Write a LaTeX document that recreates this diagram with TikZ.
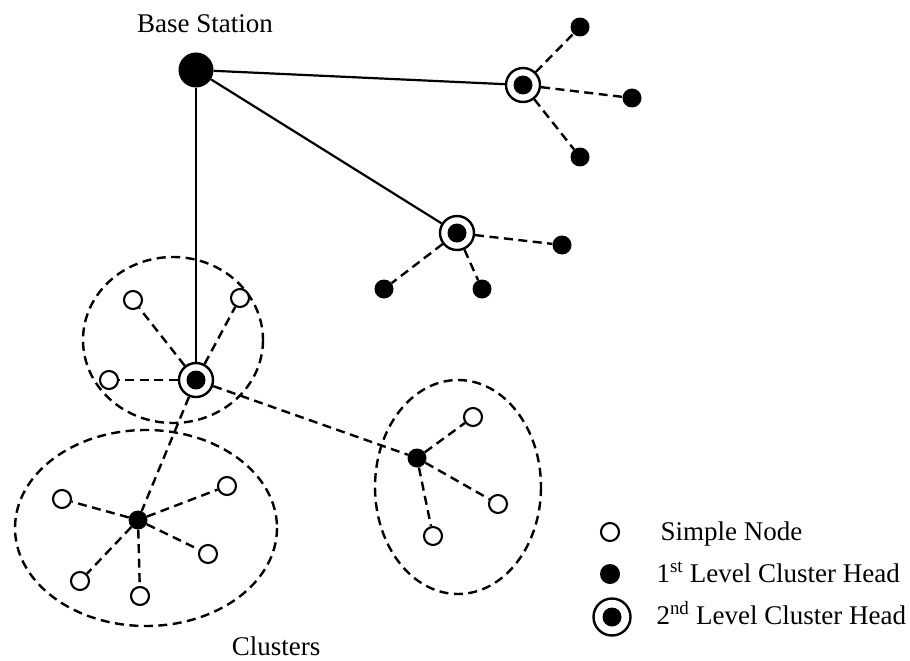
\documentclass[tikz,border=0pt]{standalone}
\usepackage{fontspec}
\setmainfont{Liberation Serif}
\begin{document}
\begin{tikzpicture}[x=1pt,y=-1pt,
  every node/.style={font=\fontsize{27}{32}\selectfont},
  conn/.style={line width=2.2pt},
  dlink/.style={line width=2.4pt, dash pattern=on 9pt off 5.5pt},
  cluster/.style={line width=2.4pt, dash pattern=on 9pt off 5.5pt},
  simple/.style={circle, draw, line width=2.1pt, fill=white, inner sep=0pt, minimum size=18pt},
  head/.style={circle, fill=black, inner sep=0pt, minimum size=19pt},
  head2/.style={circle, draw, line width=2.4pt, fill=white, inner sep=0pt, minimum size=34pt,
    path picture={\fill[black] (path picture bounding box.center) circle (9.5pt);}},
  base/.style={circle, fill=black, inner sep=0pt, minimum size=35pt}
]
\useasboundingbox (0,0) rectangle (910,661);

% clusters (dashed outlines)
\draw[cluster] (173,340) ellipse [x radius=90, y radius=83];
\draw[cluster] (146,528) ellipse [x radius=131, y radius=98];
\draw[cluster] (458,487) ellipse [x radius=83, y radius=107];

% base station
\node[base] (bs) at (196,70) {};
\node[anchor=base] (bslbl) at (205,33) {Base Station};

% second level cluster heads
\node[head2] (ha) at (523,85) {};
\node[head2] (hb) at (457,233) {};
\node[head2] (hc) at (196,380) {};

% first level heads under ha
\node[head] (a1) at (580,27) {};
\node[head] (a2) at (632,98) {};
\node[head] (a3) at (580,157) {};
% under hb
\node[head] (b1) at (562,245) {};
\node[head] (b2) at (384,289) {};
\node[head] (b3) at (482,289) {};

% simple nodes under hc
\node[simple] (c1) at (133,300) {};
\node[simple] (c2) at (240,298) {};
\node[simple] (c3) at (109,380) {};

% lower-left cluster
\node[head] (h1) at (138,520) {};
\node[simple] (d1) at (62,499) {};
\node[simple] (d2) at (227,486) {};
\node[simple] (d3) at (208,554) {};
\node[simple] (d4) at (80,581) {};
\node[simple] (d5) at (140,596) {};

% right cluster
\node[head] (h2) at (417,458) {};
\node[simple] (e1) at (473,417) {};
\node[simple] (e2) at (498,504) {};
\node[simple] (e3) at (433,536) {};

% solid links from base station
\draw[conn] (bs) -- (ha);
\draw[conn] (bs) -- (hb);
\draw[conn] (bs) -- (hc);

% dashed links
\foreach \n in {a1,a2,a3} \draw[dlink] (ha) -- (\n);
\foreach \n in {b1,b2,b3} \draw[dlink] (hb) -- (\n);
\foreach \n in {c1,c2,c3} \draw[dlink] (hc) -- (\n);
\draw[dlink] (hc) -- (h1);
\draw[dlink] (hc) -- (h2);
\foreach \n in {d1,d2,d3,d4,d5} \draw[dlink] (h1) -- (\n);
\foreach \n in {e1,e2,e3} \draw[dlink] (h2) -- (\n);

% label
\node[anchor=base] (clbl) at (276,655) {Clusters};

% legend
\node[simple] (l1) at (610,532) {};
\node[head, minimum size=20pt] (l2) at (610,574) {};
\node[head2, minimum size=37pt] (l3) at (612,617) {};
\node[anchor=base west] (t1) at (657,540) {Simple Node};
\node[anchor=base west] (t2) at (653,582) {1\textsuperscript{st} Level Cluster Head};
\node[anchor=base west] (t3) at (653,624) {2\textsuperscript{nd} Level Cluster Head};
\end{tikzpicture}
\end{document}
